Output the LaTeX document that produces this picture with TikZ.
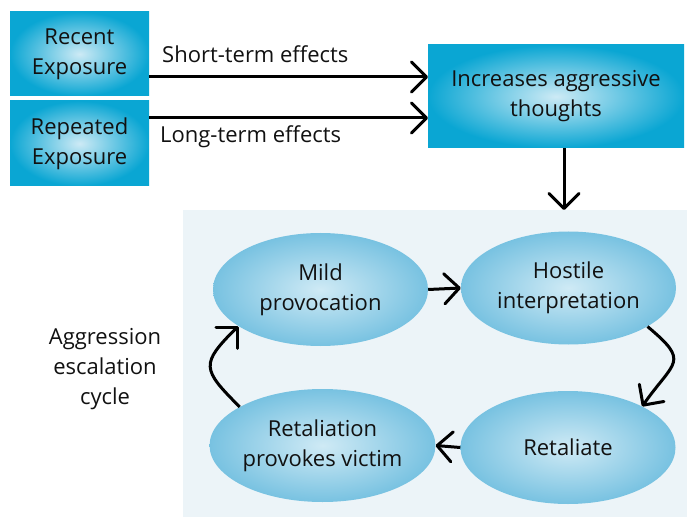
\documentclass[tikz,border=0pt]{standalone}
\usepackage{fontspec}
\setmainfont{Open Sans}
\usetikzlibrary{arrows.meta,shapes.geometric}
\definecolor{panel}{HTML}{ECF4F8}
\definecolor{boxout}{HTML}{0AA6D3}
\definecolor{boxin}{HTML}{CDEAF5}
\definecolor{ellout}{HTML}{78C2E1}
\definecolor{ellin}{HTML}{CFEAF5}
\definecolor{txt}{HTML}{111111}
\tikzset{
  x=1pt,y=-1pt,
  every node/.style={text=txt,font=\fontsize{22}{30}\selectfont,align=center},
  sqbox/.style={rectangle,inner sep=0pt,shading=radial,inner color=boxin,outer color=boxout},
  cyc/.style={ellipse,inner sep=0pt,minimum width=215pt,minimum height=113pt,shading=radial,inner color=ellin,outer color=ellout},
  arr/.style={line width=3pt,arrows={-Straight Barb[length=15pt,width=30pt,line width=3pt,round]}},
  lbl/.style={inner sep=0pt}
}
\begin{document}
\begin{tikzpicture}
\useasboundingbox (0,0) rectangle (687,518);
\fill[panel] (183,210) rectangle (687,517);
\node[sqbox,minimum width=139pt,minimum height=84pt] (recent) at (79.5,54) {Recent\\Exposure};
\node[sqbox,minimum width=139pt,minimum height=85pt] (repeated) at (79.5,143.5) {Repeated\\Exposure};
\node[sqbox,minimum width=256pt,minimum height=103pt] (incr) at (556,96.5) {Increases aggressive\\thoughts};
\node[cyc] (mild) at (320.5,289.5) {Mild\\provocation};
\node[cyc] (host) at (568.5,288) {Hostile\\interpretation};
\node[cyc] (retv) at (322.5,445.5) {Retaliation\\provokes victim};
\node[cyc] (ret) at (568,447.5) {Retaliate};
\node[lbl] (cyclbl) at (105,369) {Aggression\\escalation\\cycle};
\coordinate (s1) at (149,77);
\coordinate (s2) at (428,77);
\coordinate (l1) at (149,118);
\coordinate (l2) at (428,118);
\node[lbl,anchor=base west] (stlbl) at (162,63) {Short-term effects};
\node[lbl,anchor=base west] (ltlbl) at (160,143) {Long-term effects};
\draw[arr] (s1) -- (s2);
\draw[arr] (l1) -- (l2);
\draw[arr] (incr.south -| 564,0) -- (564,210);
\draw[arr] (mild.east) -- (host.west);
\draw[arr] (ret.west) -- (retv.east);
\draw[arr] (host.-26) to[out=-40,in=55,looseness=1.8] (ret.29);
\draw[arr] (retv.155) to[out=135,in=225,looseness=1.7] (mild.-156);
\end{tikzpicture}
\end{document}
